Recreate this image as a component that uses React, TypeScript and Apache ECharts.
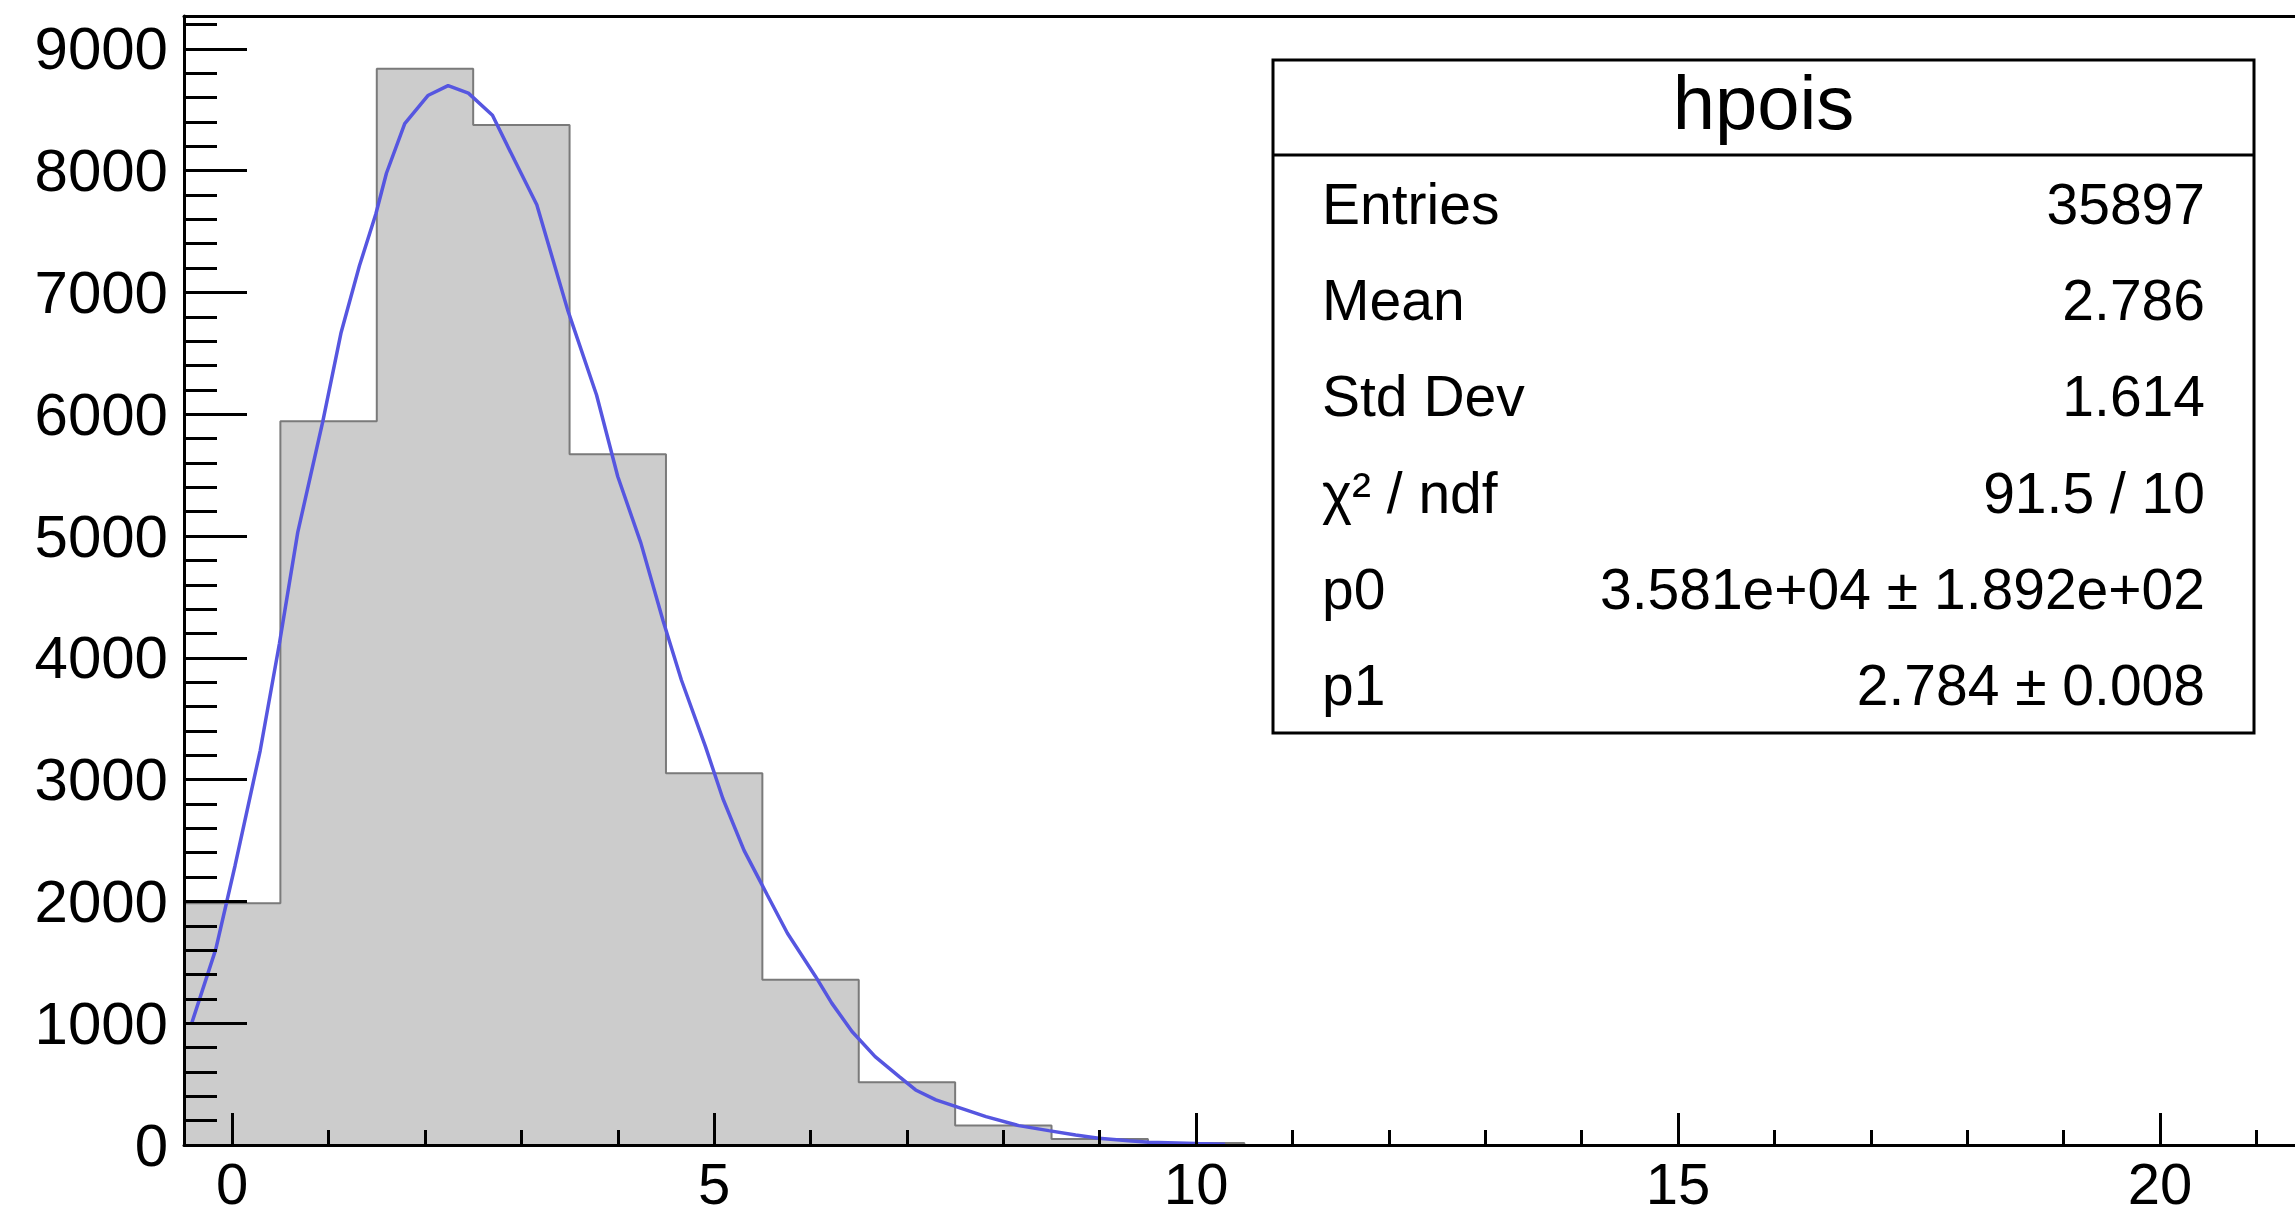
import React, { useEffect, useRef } from "react";
import * as echarts from "echarts";

// Histogram bins (centers) and counts
const binCenters = [0, 1, 2, 3, 4, 5, 6, 7, 8, 9, 10];
const binCounts = [1985, 5942, 8836, 8374, 5672, 3052, 1356, 515, 160, 50, 17];

// Fitted curve, points
const fitX = [-0.42, -0.17, 0.03, 0.29, 0.49, 0.68, 0.94, 1.13, 1.32, 1.49, 1.6, 1.79, 2.03, 2.24, 2.45, 2.7, 2.93, 3.16, 3.48, 3.78, 4.0, 4.24, 4.47, 4.66, 4.91, 5.09, 5.31, 5.55, 5.76, 6.05, 6.22, 6.43, 6.67, 6.92, 7.09, 7.3, 7.51, 7.82, 8.16, 8.47, 8.75, 8.99, 9.3, 9.51, 10.0, 10.3];
const fitY = [1000, 1608, 2295, 3237, 4118, 5030, 5942, 6672, 7219, 7644, 7979, 8386, 8617, 8698, 8637, 8455, 8085, 7720, 6857, 6158, 5489, 4942, 4304, 3818, 3271, 2845, 2419, 2055, 1739, 1386, 1165, 932, 726, 562, 452, 370, 315, 233, 159, 118, 82, 55, 35, 22, 12, 6];

// Axis ticks
const xMajorTicks = [0, 5, 10, 15, 20];
const xMinorTicks = [1, 2, 3, 4, 6, 7, 8, 9, 11, 12, 13, 14, 16, 17, 18, 19, 21];
const yMajorTicks = [0, 1000, 2000, 3000, 4000, 5000, 6000, 7000, 8000, 9000];
const yMinorTicks: number[] = [];
for (let v = 200; v <= 9200; v += 200) if (v % 1000 !== 0) yMinorTicks.push(v);

const xMin = -0.5;
const xMax = 21.4;
const yMin = 0;
const yMax = 9270;

// Stats box
const statsTitle = "hpois";
const statsLabels = ["Entries", "Mean", "Std Dev", "χ² / ndf", "p0", "p1"];
const statsValues = ["35897", "2.786", "1.614", "91.5 / 10", "3.581e+04 ± 1.892e+02", "2.784 ± 0.008"];

const FONT = '"Liberation Sans", Arial, Helvetica, sans-serif';

export default function App() {
  const ref = useRef<HTMLDivElement>(null);

  useEffect(() => {
    if (!ref.current) return;
    const chart = echarts.init(ref.current, null, { renderer: "svg" });

    const histPts: number[][] = [];
    binCenters.forEach((c, i) => {
      const lo = c - 0.5;
      const hi = c + 0.5;
      if (i === 0) histPts.push([lo, 0]);
      histPts.push([lo, binCounts[i]], [hi, binCounts[i]]);
    });
    histPts.push([binCenters[binCenters.length - 1] + 0.5, 0]);

    const fitPts = fitX.map((x, i) => [x, fitY[i]]);

    const boxL = 1273, boxR = 2254, boxT = 60, boxSep = 155, boxB = 733;
    const rowH = (boxB - boxSep) / statsLabels.length;
    const graphicEls: any[] = [
      {
        type: "rect",
        z: 100,
        shape: { x: boxL, y: boxT, width: boxR - boxL, height: boxB - boxT },
        style: { fill: "#ffffff", stroke: "#000000", lineWidth: 3 },
      },
      {
        type: "line",
        z: 101,
        shape: { x1: boxL, y1: boxSep, x2: boxR, y2: boxSep },
        style: { stroke: "#000000", lineWidth: 3 },
      },
      {
        type: "text",
        z: 101,
        x: (boxL + boxR) / 2,
        y: 102,
        style: {
          text: statsTitle,
          align: "center",
          verticalAlign: "middle",
          fontSize: 76,
          fontFamily: FONT,
          fill: "#000000",
        },
      },
    ];
    statsLabels.forEach((lab, i) => {
      const cy = boxSep + rowH * (i + 0.5) + 0.5;
      graphicEls.push({
        type: "text",
        z: 101,
        x: 1322,
        y: cy,
        style: { text: lab, align: "left", verticalAlign: "middle", fontSize: 57, fontFamily: FONT, fill: "#000000" },
      });
      graphicEls.push({
        type: "text",
        z: 101,
        x: 2205,
        y: cy,
        style: { text: statsValues[i], align: "right", verticalAlign: "middle", fontSize: 57, fontFamily: FONT, fill: "#000000" },
      });
    });

    const blackLine = { color: "#000000", width: 3 };
    const plain = (v: number) => String(v);

    chart.setOption({
      animation: false,
      backgroundColor: "#ffffff",
      grid: {
        left: 184,
        right: 0,
        top: 16,
        bottom: 73,
        containLabel: false,
        outerBoundsMode: "none",
      },
      xAxis: [
        {
          type: "value",
          min: xMin,
          max: xMax,
          position: "bottom",
          z: 10,
          axisLine: { show: true, onZero: false, lineStyle: blackLine },
          axisTick: { show: true, inside: true, length: 32, customValues: xMajorTicks, lineStyle: blackLine },
          axisLabel: {
            show: true,
            customValues: xMajorTicks,
            formatter: plain,
            fontSize: 58,
            lineHeight: 58,
            fontFamily: FONT,
            color: "#000000",
            margin: 9,
          },
          splitLine: { show: false },
        },
        {
          type: "value",
          min: xMin,
          max: xMax,
          position: "bottom",
          z: 10,
          axisLine: { show: false, onZero: false },
          axisTick: { show: true, inside: true, length: 15, customValues: xMinorTicks, lineStyle: blackLine },
          axisLabel: { show: false },
          splitLine: { show: false },
        },
        {
          type: "value",
          min: xMin,
          max: xMax,
          position: "top",
          z: 10,
          axisLine: { show: true, onZero: false, lineStyle: blackLine },
          axisTick: { show: false },
          axisLabel: { show: false },
          splitLine: { show: false },
        },
      ],
      yAxis: [
        {
          type: "value",
          min: yMin,
          max: yMax,
          position: "left",
          z: 10,
          axisLine: { show: true, onZero: false, lineStyle: blackLine },
          axisTick: { show: true, inside: true, length: 63, customValues: yMajorTicks, lineStyle: blackLine },
          axisLabel: {
            show: true,
            customValues: yMajorTicks,
            formatter: plain,
            fontSize: 60,
            fontFamily: FONT,
            color: "#000000",
            margin: 16,
          },
          splitLine: { show: false },
        },
        {
          type: "value",
          min: yMin,
          max: yMax,
          position: "left",
          z: 10,
          axisLine: { show: false, onZero: false },
          axisTick: { show: true, inside: true, length: 33, customValues: yMinorTicks, lineStyle: blackLine },
          axisLabel: { show: false },
          splitLine: { show: false },
        },
      ],
      series: [
        {
          type: "line",
          name: "hpois",
          xAxisIndex: 0,
          yAxisIndex: 0,
          data: histPts,
          symbol: "none",
          lineStyle: { color: "#7a7a7a", width: 2 },
          areaStyle: { color: "#cccccc", opacity: 1 },
          z: 2,
          silent: true,
        },
        {
          type: "line",
          name: "fit",
          xAxisIndex: 0,
          yAxisIndex: 0,
          data: fitPts,
          symbol: "none",
          smooth: false,
          lineStyle: { color: "#5656e0", width: 3.5 },
          z: 3,
          silent: true,
        },
      ],
      graphic: graphicEls,
    });

    return () => {
      chart.dispose();
    };
  }, []);

  return (
    <div
      ref={ref}
      style={{ position: "absolute", left: 0, top: 0, width: 2295, height: 1218, background: "#ffffff" }}
    />
  );
}
